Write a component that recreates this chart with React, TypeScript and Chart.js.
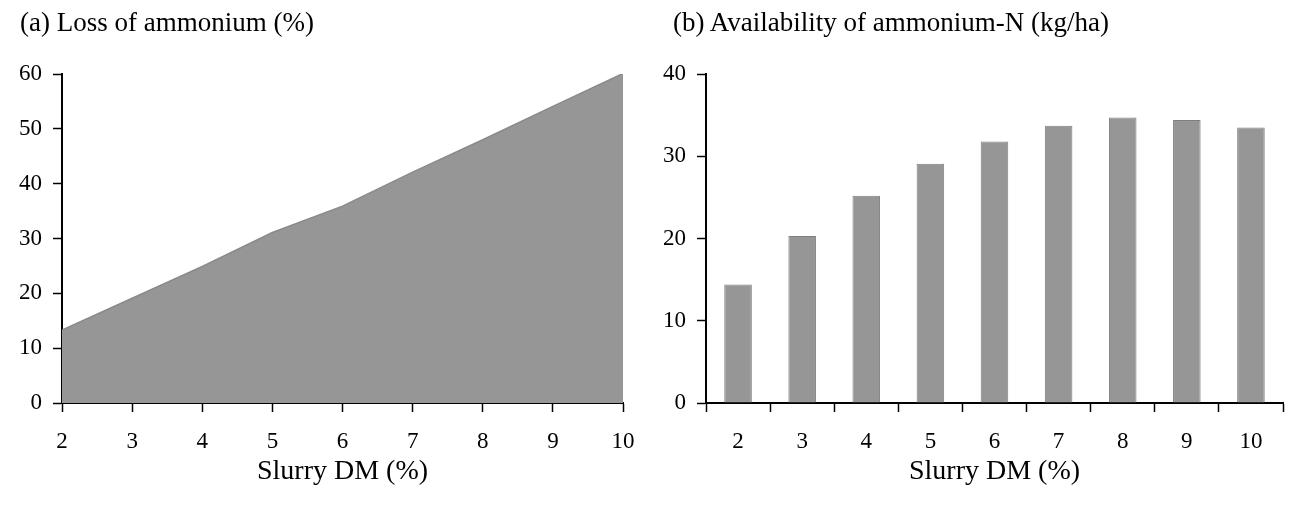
import React, { useEffect, useRef } from "react";
import { Chart, registerables } from "chart.js";

Chart.register(...registerables);

const slurryDM = [2, 3, 4, 5, 6, 7, 8, 9, 10];
const lossAmmonium = [13.3, 19.1, 24.9, 31.1, 35.9, 42.1, 48.0, 54.1, 60.1];
const availabilityN = [14.4, 20.3, 25.2, 29.1, 31.8, 33.7, 34.7, 34.4, 33.5];
const leftTitle = "(a) Loss of ammonium (%)";
const rightTitle = "(b) Availability of ammonium-N (kg/ha)";
const xAxisTitle = "Slurry DM (%)";

const FONT = "'Liberation Serif', 'Times New Roman', serif";
const FILL = "#969696";

function axisCommon() {
  return {
    grid: {
      drawOnChartArea: false,
      drawTicks: true,
      tickLength: 9,
      color: "#000",
      tickWidth: 1.5,
    },
    border: { display: true, color: "#000", width: 2 },
  };
}

export default function App() {
  const leftRef = useRef<HTMLCanvasElement | null>(null);
  const rightRef = useRef<HTMLCanvasElement | null>(null);

  useEffect(() => {
    const tickFont = { family: FONT, size: 23 };
    const axisTitleFont = { family: FONT, size: 28 };

    const xTitle = {
      display: true,
      text: xAxisTitle,
      color: "#000",
      font: axisTitleFont,
      padding: { top: 0, bottom: 27 },
    };

    const fitX = (s: any) => {
      s.height = 112;
      s.paddingLeft = 0;
      s.paddingRight = 0;
    };

    const left = new Chart(leftRef.current as HTMLCanvasElement, {
      type: "line",
      data: {
        datasets: [
          {
            data: slurryDM.map((x, i) => ({ x, y: lossAmmonium[i] })),
            fill: "origin",
            backgroundColor: FILL,
            borderColor: "#8a8a8a",
            borderWidth: 1.5,
            pointRadius: 0,
            tension: 0,
          },
        ],
      },
      options: {
        responsive: false,
        animation: false,
        layout: { padding: { left: 0, right: 23, top: 74, bottom: 0 } },
        plugins: {
          legend: { display: false },
          tooltip: { enabled: false },
          title: { display: false },
        },
        scales: {
          x: {
            type: "linear",
            min: 2,
            max: 10,
            ...axisCommon(),
            ticks: { stepSize: 1, color: "#000", font: tickFont, padding: 16 },
            title: xTitle,
            afterFit: fitX,
          },
          y: {
            min: 0,
            max: 60,
            ...axisCommon(),
            ticks: { stepSize: 10, color: "#000", font: tickFont, padding: 11 },
            afterFit: (s: any) => {
              s.width = 62;
            },
          },
        },
      },
    } as any);

    const right = new Chart(rightRef.current as HTMLCanvasElement, {
      type: "bar",
      data: {
        labels: slurryDM.map(String),
        datasets: [
          {
            data: availabilityN,
            backgroundColor: FILL,
            borderColor: "#7f7f7f",
            borderWidth: 1,
            barPercentage: 0.43,
            categoryPercentage: 1,
          },
        ],
      },
      options: {
        responsive: false,
        animation: false,
        layout: { padding: { left: 0, right: 10, top: 74, bottom: 0 } },
        plugins: {
          legend: { display: false },
          tooltip: { enabled: false },
          title: { display: false },
        },
        scales: {
          x: {
            ...axisCommon(),
            grid: { ...axisCommon().grid, offset: true },
            ticks: { color: "#000", font: tickFont, padding: 16 },
            title: xTitle,
            afterFit: fitX,
          },
          y: {
            min: 0,
            max: 40,
            ...axisCommon(),
            ticks: { stepSize: 10, color: "#000", font: tickFont, padding: 11 },
            afterFit: (s: any) => {
              s.width = 60;
            },
          },
        },
      },
    } as any);

    return () => {
      left.destroy();
      right.destroy();
    };
  }, []);

  const titleStyle: React.CSSProperties = {
    position: "absolute",
    top: 6,
    fontFamily: FONT,
    fontSize: 27,
    lineHeight: "32px",
    color: "#000",
    whiteSpace: "nowrap",
    margin: 0,
  };

  return (
    <div
      style={{
        position: "absolute",
        left: 0,
        top: 0,
        width: 1293,
        height: 515,
        background: "#fff",
      }}
    >
      <canvas
        ref={leftRef}
        width={646}
        height={515}
        style={{ position: "absolute", left: 0, top: 0 }}
      />
      <canvas
        ref={rightRef}
        width={647}
        height={515}
        style={{ position: "absolute", left: 646, top: 0 }}
      />
      <div style={{ ...titleStyle, left: 20 }}>{leftTitle}</div>
      <div style={{ ...titleStyle, left: 673 }}>{rightTitle}</div>
    </div>
  );
}
